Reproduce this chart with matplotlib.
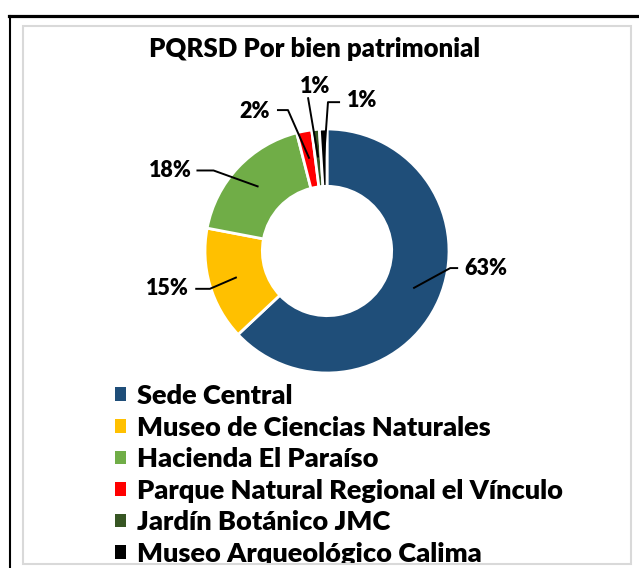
"""
Donut chart: PQRSD por bien patrimonial
"""

import matplotlib.pyplot as plt
from matplotlib.patches import Rectangle
from matplotlib.lines import Line2D
import math

plt.rcParams['font.family'] = ['Lato', 'DejaVu Sans']

# data
sites = ["Sede Central", "Museo de Ciencias Naturales", "Hacienda El Paraíso",
         "Parque Natural Regional el Vínculo", "Jardín Botánico JMC",
         "Museo Arqueológico Calima"]
values = [63, 15, 18, 2, 1, 1]
colors = ["#1F4E79", "#FFC000", "#70AD47", "#FF0000", "#375623", "#000000"]

# label layout (data coords of the donut axes): elbow, tail end, text position, alignment
elbows = [(1.01, -0.14), (-0.96, -0.31), (-0.93, 0.66), (-0.32, 1.155), (-0.156, 1.26), (0.008, 1.22)]
tails = [(1.075, -0.14), (-1.08, -0.31), (-1.07, 0.66), (-0.41, 1.155), (-0.156, 1.26), (0.107, 1.22)]
text_pos = [(1.13, -0.14), (-1.13, -0.31), (-1.11, 0.66), (-0.47, 1.14), (-0.098, 1.35), (0.165, 1.23)]
text_ha = ["left", "right", "right", "right", "center", "left"]

W, H = 639, 568
fig = plt.figure(figsize=(W / 100, H / 100), dpi=100)

# donut axes: centre (327, 251) px, radius 122 px
cx, cy, r = 327, 251, 122
ax = fig.add_axes([(cx - r) / W, 1 - (cy + r) / H, 2 * r / W, 2 * r / H])
wedges, _ = ax.pie(values, colors=colors, startangle=90, counterclock=False, radius=1,
                   wedgeprops=dict(width=0.47, edgecolor="white", linewidth=2))
ax.set_xlim(-1, 1)
ax.set_ylim(-1, 1)
ax.set_aspect("equal")
ax.axis("off")

total = sum(values)
for i, w in enumerate(wedges):
    mid = math.radians((w.theta1 + w.theta2) / 2)
    ax_x, ax_y = 0.77 * math.cos(mid), 0.77 * math.sin(mid)   # anchor inside the ring
    xs = [ax_x, elbows[i][0], tails[i][0]]
    ys = [ax_y, elbows[i][1], tails[i][1]]
    ax.plot(xs, ys, color="black", lw=1.4, clip_on=False, solid_capstyle="butt")
    ax.text(text_pos[i][0], text_pos[i][1], "{:.0f}%".format(values[i] / total * 100),
            ha=text_ha[i], va="center", fontsize=15.5, fontweight="heavy", clip_on=False)

fig.text(315 / W, 1 - 49 / H, "PQRSD Por bien patrimonial", ha="center", va="center",
         fontsize=18.5, fontweight="heavy")

leg = fig.legend(wedges, sites, loc="upper left", bbox_to_anchor=(115 / W, 1 - 384 / H),
                 frameon=False, prop=dict(weight="heavy", size=19.5),
                 handlelength=0.4, handleheight=0.4, handletextpad=0.4,
                 labelspacing=0.28, borderpad=0, borderaxespad=0)
for h in leg.legend_handles:
    h.set_edgecolor("none")

# frame: cover below the inner border, then borders
fig.add_artist(Rectangle((11 / W, 0), 1, 3.5 / H, transform=fig.transFigure,
                         facecolor="white", edgecolor="none", zorder=10))
fig.add_artist(Rectangle((23 / W, 1 - 564 / H), (631 - 23) / W, (564 - 26) / H,
                         transform=fig.transFigure, fill=False, edgecolor="#D9D9D9",
                         lw=1.5, zorder=11))
fig.add_artist(Line2D([9 / W, 1], [1 - 15.5 / H] * 2, transform=fig.transFigure,
                      color="black", lw=2.3, zorder=12))
fig.add_artist(Line2D([10 / W] * 2, [0, 1 - 15.5 / H], transform=fig.transFigure,
                      color="black", lw=1.5, zorder=12))

fig.savefig("out.png", dpi=100)
